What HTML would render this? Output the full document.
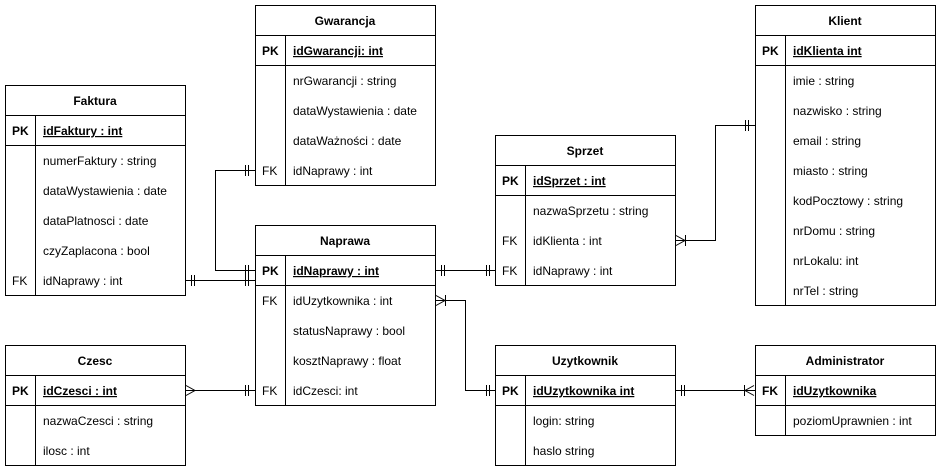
<!DOCTYPE html>
<html><head><meta charset="utf-8"><style>
body{margin:0;background:#fff;width:941px;height:471px;overflow:hidden}
svg text{font-family:"Liberation Sans",sans-serif;font-size:12px;fill:#000}
</style></head><body>
<svg width="941" height="471" xmlns="http://www.w3.org/2000/svg">
<g fill="none" stroke="#000" stroke-width="1">
<rect x="255.5" y="5.5" width="180" height="180"/><line x1="255" y1="35.5" x2="435" y2="35.5"/><line x1="255" y1="65.5" x2="435" y2="65.5"/><line x1="285.5" y1="35" x2="285.5" y2="185"/>
<rect x="5.5" y="85.5" width="180" height="210"/><line x1="5" y1="115.5" x2="185" y2="115.5"/><line x1="5" y1="145.5" x2="185" y2="145.5"/><line x1="35.5" y1="115" x2="35.5" y2="295"/>
<rect x="255.5" y="225.5" width="180" height="180"/><line x1="255" y1="255.5" x2="435" y2="255.5"/><line x1="255" y1="285.5" x2="435" y2="285.5"/><line x1="285.5" y1="255" x2="285.5" y2="405"/>
<rect x="495.5" y="135.5" width="180" height="150"/><line x1="495" y1="165.5" x2="675" y2="165.5"/><line x1="495" y1="195.5" x2="675" y2="195.5"/><line x1="525.5" y1="165" x2="525.5" y2="285"/>
<rect x="755.5" y="5.5" width="180" height="300"/><line x1="755" y1="35.5" x2="935" y2="35.5"/><line x1="755" y1="65.5" x2="935" y2="65.5"/><line x1="785.5" y1="35" x2="785.5" y2="305"/>
<rect x="5.5" y="345.5" width="180" height="120"/><line x1="5" y1="375.5" x2="185" y2="375.5"/><line x1="5" y1="405.5" x2="185" y2="405.5"/><line x1="35.5" y1="375" x2="35.5" y2="465"/>
<rect x="495.5" y="345.5" width="180" height="120"/><line x1="495" y1="375.5" x2="675" y2="375.5"/><line x1="495" y1="405.5" x2="675" y2="405.5"/><line x1="525.5" y1="375" x2="525.5" y2="465"/>
<rect x="755.5" y="345.5" width="180" height="90"/><line x1="755" y1="375.5" x2="935" y2="375.5"/><line x1="755" y1="405.5" x2="935" y2="405.5"/><line x1="785.5" y1="375" x2="785.5" y2="435"/>
<polyline points="255,170.5 215.5,170.5 215.5,270.5 255,270.5"/>
<line x1="245.5" y1="165" x2="245.5" y2="176"/><line x1="248.5" y1="165" x2="248.5" y2="176"/>
<line x1="245.5" y1="265" x2="245.5" y2="276"/><line x1="248.5" y1="265" x2="248.5" y2="276"/>
<line x1="185" y1="280.5" x2="255" y2="280.5"/>
<line x1="191.5" y1="275" x2="191.5" y2="286"/><line x1="194.5" y1="275" x2="194.5" y2="286"/>
<line x1="245.5" y1="275" x2="245.5" y2="286"/><line x1="248.5" y1="275" x2="248.5" y2="286"/>
<line x1="435" y1="270.5" x2="495" y2="270.5"/>
<line x1="441.5" y1="265" x2="441.5" y2="276"/><line x1="444.5" y1="265" x2="444.5" y2="276"/>
<line x1="486.5" y1="265" x2="486.5" y2="276"/><line x1="489.5" y1="265" x2="489.5" y2="276"/>
<polyline points="435,300.5 465.5,300.5 465.5,390.5 495,390.5"/>
<polyline points="436,295.5 445,300.5 436,305.5"/><line x1="445.5" y1="295" x2="445.5" y2="306"/>
<line x1="486.5" y1="385" x2="486.5" y2="396"/><line x1="489.5" y1="385" x2="489.5" y2="396"/>
<line x1="185" y1="390.5" x2="255" y2="390.5"/>
<polyline points="186,385.5 195,390.5 186,395.5"/>
<line x1="245.5" y1="385" x2="245.5" y2="396"/><line x1="248.5" y1="385" x2="248.5" y2="396"/>
<polyline points="675,240.5 715.5,240.5 715.5,125.5 755,125.5"/>
<polyline points="676,235.5 685,240.5 676,245.5"/><line x1="685.5" y1="235" x2="685.5" y2="246"/>
<line x1="745.5" y1="120" x2="745.5" y2="131"/><line x1="748.5" y1="120" x2="748.5" y2="131"/>
<line x1="675" y1="390.5" x2="755" y2="390.5"/>
<line x1="681.5" y1="385" x2="681.5" y2="396"/><line x1="684.5" y1="385" x2="684.5" y2="396"/>
<polyline points="754,385.5 745,390.5 754,395.5"/><line x1="744.5" y1="385" x2="744.5" y2="396"/>
</g>
<g transform="translate(0,1)">
<g text-anchor="middle" font-weight="bold">
<text x="345" y="24" font-weight="bold">Gwarancja</text>
<text x="95" y="104" font-weight="bold">Faktura</text>
<text x="345" y="244" font-weight="bold">Naprawa</text>
<text x="585" y="154" font-weight="bold">Sprzet</text>
<text x="845" y="24" font-weight="bold">Klient</text>
<text x="95" y="364" font-weight="bold">Czesc</text>
<text x="585" y="364" font-weight="bold">Uzytkownik</text>
<text x="845" y="364" font-weight="bold">Administrator</text>
</g>
<g font-weight="bold">
<text x="262" y="54">PK</text><text x="293" y="54" text-decoration="underline">idGwarancji: int</text>
<text x="12" y="134">PK</text><text x="43" y="134" text-decoration="underline">idFaktury : int</text>
<text x="262" y="274">PK</text><text x="293" y="274" text-decoration="underline">idNaprawy : int</text>
<text x="502" y="184">PK</text><text x="533" y="184" text-decoration="underline">idSprzet : int</text>
<text x="762" y="54">PK</text><text x="793" y="54" text-decoration="underline">idKlienta int</text>
<text x="12" y="394">PK</text><text x="43" y="394" text-decoration="underline">idCzesci : int</text>
<text x="502" y="394">PK</text><text x="533" y="394" text-decoration="underline">idUzytkownika int</text>
<text x="762" y="394">FK</text><text x="793" y="394" text-decoration="underline">idUzytkownika</text>
</g>
<g>
<text x="293" y="84">nrGwarancji : string</text>
<text x="293" y="114">dataWystawienia : date</text>
<text x="293" y="144">dataWażności : date</text>
<text x="262" y="174">FK</text><text x="293" y="174">idNaprawy : int</text>
<text x="43" y="164">numerFaktury : string</text>
<text x="43" y="194">dataWystawienia : date</text>
<text x="43" y="224">dataPlatnosci : date</text>
<text x="43" y="254">czyZaplacona : bool</text>
<text x="12" y="284">FK</text><text x="43" y="284">idNaprawy : int</text>
<text x="262" y="304">FK</text><text x="293" y="304">idUzytkownika : int</text>
<text x="293" y="334">statusNaprawy : bool</text>
<text x="293" y="364">kosztNaprawy : float</text>
<text x="262" y="394">FK</text><text x="293" y="394">idCzesci: int</text>
<text x="533" y="214">nazwaSprzetu : string</text>
<text x="502" y="244">FK</text><text x="533" y="244">idKlienta : int</text>
<text x="502" y="274">FK</text><text x="533" y="274">idNaprawy : int</text>
<text x="793" y="84">imie : string</text>
<text x="793" y="114">nazwisko : string</text>
<text x="793" y="144">email : string</text>
<text x="793" y="174">miasto : string</text>
<text x="793" y="204">kodPocztowy : string</text>
<text x="793" y="234">nrDomu : string</text>
<text x="793" y="264">nrLokalu: int</text>
<text x="793" y="294">nrTel : string</text>
<text x="43" y="424">nazwaCzesci : string</text>
<text x="43" y="454">ilosc : int</text>
<text x="533" y="424">login: string</text>
<text x="533" y="454">haslo string</text>
<text x="793" y="424">poziomUprawnien : int</text>
</g>
</g>
</svg>
</body></html>
